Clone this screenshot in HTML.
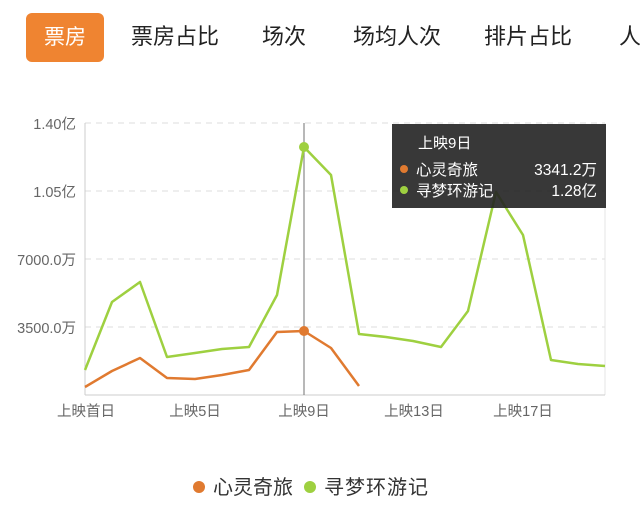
<!DOCTYPE html>
<html><head><meta charset="utf-8"><style>
html,body{margin:0;padding:0;background:#fff;width:640px;height:521px;overflow:hidden}
body{font-family:"Liberation Sans","Noto Sans CJK SC",sans-serif}
.tab{position:absolute;top:20px;font-size:22px;color:#222;line-height:34px}
</style></head><body>
<div style="position:absolute;left:26px;top:13px;width:78px;height:49px;background:#ef8431;border-radius:6px;color:#fff;font-size:21px;line-height:49px;text-align:center">票房</div>
<div class="tab" style="left:131px">票房占比</div>
<div class="tab" style="left:262px">场次</div>
<div class="tab" style="left:353px">场均人次</div>
<div class="tab" style="left:484px">排片占比</div>
<div class="tab" style="left:619px">人</div>
<svg width="640" height="521" style="position:absolute;left:0;top:0" font-family="Liberation Sans, Noto Sans CJK SC, sans-serif">
<g stroke="#ddd" stroke-dasharray="6,5" stroke-width="1">
<line x1="85" y1="123" x2="605" y2="123"/><line x1="85" y1="191" x2="605" y2="191"/>
<line x1="85" y1="259" x2="605" y2="259"/><line x1="85" y1="327" x2="605" y2="327"/>
</g>
<line x1="85" y1="123" x2="85" y2="395" stroke="#ccc"/>
<line x1="605" y1="123" x2="605" y2="395" stroke="#e4e4e4"/>
<line x1="85" y1="395" x2="605" y2="395" stroke="#ccc"/>
<g font-size="14.5" fill="#666" text-anchor="end">
<text x="76" y="129">1.40亿</text><text x="76" y="197">1.05亿</text>
<text x="76" y="265">7000.0万</text><text x="76" y="333">3500.0万</text>
</g>
<g font-size="14.5" fill="#666" text-anchor="middle">
<text x="86" y="416">上映首日</text><text x="195" y="416">上映5日</text>
<text x="304" y="416">上映9日</text><text x="414" y="416">上映13日</text><text x="523" y="416">上映17日</text>
</g>
<line x1="304" y1="123" x2="304" y2="395" stroke="#888" stroke-width="1.2"/>
<polyline fill="none" stroke="#9ed040" stroke-width="2.5" stroke-linejoin="round" points="85,370 112,302 140,282 167,357 195,353 222,349 249,347 277,295 304,147 331,175 359,334 386,337 413,341 441,347 468,311 496,192 523,235 551,360 578,364 605,366"/>
<polyline fill="none" stroke="#e07a30" stroke-width="2.5" stroke-linejoin="round" points="85,387 112,371 140,358 167,378 195,379 222,375 249,370 277,332 304,331 331,348 359,386"/>
<circle cx="304" cy="147" r="5" fill="#9ed040"/>
<circle cx="304" cy="331" r="5" fill="#e07a30"/>
<rect x="392" y="124" width="214" height="84" fill="#222" fill-opacity="0.9"/>
<text x="418" y="148" font-size="15" fill="#fff">上映9日</text>
<circle cx="404" cy="169" r="4" fill="#e07a30"/>
<text x="416" y="175" font-size="15.5" fill="#fff">心灵奇旅</text>
<text x="597" y="175" font-size="15.5" fill="#fff" text-anchor="end">3341.2万</text>
<circle cx="404" cy="190" r="4" fill="#9ed040"/>
<text x="416" y="196" font-size="15.5" fill="#fff">寻梦环游记</text>
<text x="597" y="196" font-size="15.5" fill="#fff" text-anchor="end">1.28亿</text>
<circle cx="199" cy="487" r="6" fill="#e07a30"/>
<text x="213" y="494" font-size="20" fill="#333">心灵奇旅</text>
<circle cx="310" cy="487" r="6" fill="#9ed040"/>
<text x="324" y="494" font-size="20" fill="#333" letter-spacing="1">寻梦环游记</text>
</svg>
</body></html>
